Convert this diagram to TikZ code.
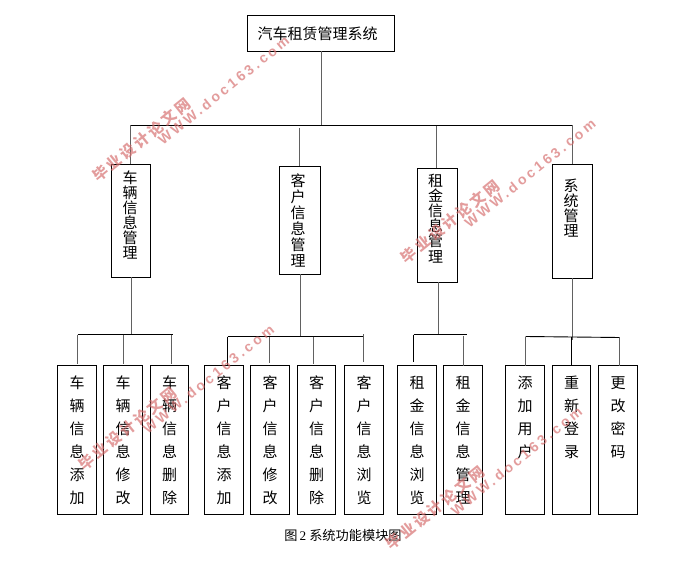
\documentclass[tikz,border=0pt]{standalone}
\usepackage{fontspec}
\setmainfont{Noto Sans CJK SC}
\newfontfamily\serfont{Liberation Serif}
\newfontfamily\wmcn[LetterSpace=18]{Noto Sans CJK SC}
\newfontfamily\wmen[LetterSpace=22]{Liberation Sans}
\definecolor{wmred}{RGB}{214,110,110}
% height, first glyph centre below top, pitch, font size, width, lines
\newcommand{\stk}[6]{\parbox[c][#1pt][t]{#5pt}{\centering\fontsize{#4pt}{#3pt}\selectfont
  \lineskiplimit=-100pt \baselineskip=#3pt
  \rule{0pt}{\dimexpr #2pt+0.36\dimexpr #4pt\relax\relax}#6\par}}
\newcommand{\lowtxt}[2]{\stk{149}{17.8}{22.9}{15}{#1}{#2}}
\newcommand{\wmk}[5]{%
  \node[wmtext,font=\wmcn\bfseries\fontsize{15pt}{15pt}\selectfont] (#1cn) at (#2,#3) {毕业设计论文网};
  \node[wmtext,font=\wmen\bfseries\fontsize{14pt}{14pt}\selectfont] (#1en) at (#4,#5) {WWW.doc163.com};}
\tikzset{
  bx/.style={draw=black,line width=0.9pt,fill=white,inner sep=0pt,outer sep=0pt,anchor=center},
  hline/.style={draw=black,line width=0.9pt},
  vline/.style={draw=black!62,line width=1.2pt},
  wmtext/.style={text=wmred,text opacity=0.68,rotate=39,inner sep=0pt}
}
\begin{document}
\begin{tikzpicture}[x=1pt,y=-1pt]
\useasboundingbox[fill=white] (0,0) rectangle (691,564);
% root
\node[bx,minimum width=147pt,minimum height=36pt] (root) at (321,33.5) {\makebox[140pt]{\fontsize{15pt}{15pt}\selectfont 汽车租赁管理系统}\hspace*{7pt}};
% second level
\node[bx] (a) at (131,221) {\stk{113}{13.7}{15}{15}{39}{\hspace*{-2pt}车\\\hspace*{-2pt}辆\\\hspace*{-2pt}信\\\hspace*{-2pt}息\\\hspace*{-2pt}管\\\hspace*{-2pt}理}};
\node[bx] (b) at (300,220.5) {\stk{108}{14.7}{16}{15}{41}{\hspace*{-4pt}客\\\hspace*{-4pt}户\\\hspace*{-4pt}信\\\hspace*{-4pt}息\\\hspace*{-4pt}管\\\hspace*{-4pt}理}};
\node[bx] (c) at (437.5,225.5) {\stk{114}{12.7}{15.1}{15}{40}{\hspace*{-3.6pt}租\\\hspace*{-3.6pt}金\\\hspace*{-3.6pt}信\\\hspace*{-3.6pt}息\\\hspace*{-3.6pt}管\\\hspace*{-3.6pt}理}};
\node[bx] (d) at (572.5,221.5) {\stk{114}{21.7}{14.9}{15}{40}{\hspace*{-2.6pt}系\\\hspace*{-2.6pt}统\\\hspace*{-2.6pt}管\\\hspace*{-2.6pt}理}};
% third level
\node[bx] (a1) at (77,440) {\lowtxt{39}{车\\辆\\信\\息\\添\\加}};
\node[bx] (a2) at (123,440) {\lowtxt{39}{车\\辆\\信\\息\\修\\改}};
\node[bx] (a3) at (169.5,440) {\lowtxt{38}{车\\辆\\信\\息\\删\\除}};
\node[bx] (b1) at (224,440) {\lowtxt{39}{客\\户\\信\\息\\添\\加}};
\node[bx] (b2) at (270,440) {\lowtxt{39}{客\\户\\信\\息\\修\\改}};
\node[bx] (b3) at (316.5,440) {\lowtxt{38}{客\\户\\信\\息\\删\\除}};
\node[bx] (b4) at (364,440) {\lowtxt{39}{客\\户\\信\\息\\浏\\览}};
\node[bx] (c1) at (417,440) {\lowtxt{39}{租\\金\\信\\息\\浏\\览}};
\node[bx] (c2) at (463,440) {\lowtxt{39}{租\\金\\信\\息\\管\\理}};
\node[bx] (d1) at (525,440) {\lowtxt{39}{添\\加\\用\\户}};
\node[bx] (d2) at (571.5,440) {\lowtxt{38}{重\\新\\登\\录}};
\node[bx] (d3) at (618,440) {\lowtxt{39}{更\\改\\密\\码}};
% junctions
\coordinate (jr) at (321.5,125.5);
\coordinate (jl) at (130.5,125.5);
\coordinate (jR) at (572.5,125.5);
\coordinate (jb) at (299.5,128);
\coordinate (jc) at (436.5,126);
\coordinate (ja) at (131.5,334.5);
\coordinate (ja1) at (77.5,334.5);
\coordinate (ja2) at (123.5,334.5);
\coordinate (ja3) at (171.5,334.5);
\coordinate (ja4) at (172.5,334.5);
\coordinate (jbb) at (300.5,336.5);
\coordinate (jb1) at (227.5,336.5);
\coordinate (jb2) at (269.5,336.5);
\coordinate (jb3) at (313.5,336.5);
\coordinate (jb4) at (363.5,334);
\coordinate (jb5) at (364,336.5);
\coordinate (jcc) at (438.5,334.5);
\coordinate (jc1) at (413.5,334.5);
\coordinate (jc2) at (463.5,336);
\coordinate (jc3) at (466.5,334.5);
\coordinate (jdd) at (572.5,340);
\coordinate (jd1) at (525.5,336.5);
\coordinate (jd2) at (571.5,336.5);
\coordinate (jd3) at (619.5,337.5);
% connectors
\draw[vline] (jr |- root.south) -- (jr);
\draw[hline] (jl) -- (jR);
\draw[vline] (jl) -- (jl |- a.north);
\draw[vline] (jb) -- (jb |- b.north);
\draw[vline] (jc) -- (jc |- c.north);
\draw[vline] (jR) -- (jR |- d.north);
\draw[vline] (ja |- a.south) -- (ja);
\draw[hline] (ja1) -- (ja4);
\draw[vline] (ja1) -- ++(0,29);
\draw[vline] (ja2) -- ++(0,29);
\draw[vline] (ja3) -- ++(0,29);
\draw[vline] (jbb |- b.south) -- (jbb);
\draw[hline] (jb1) -- (jb5);
\draw[hline] (jb1) -- (jb1 |- b1.north);
\draw[vline] (jb2) -- ++(0,26);
\draw[vline] (jb3) -- ++(0,27);
\draw[vline] (jb4) -- ++(0,28);
\draw[vline] (jcc |- c.south) -- (jcc);
\draw[hline] (jc1) -- (jc3);
\draw[hline] (jc1) -- ++(0,27.7);
\draw[vline] (jc2) -- (jc2 |- c2.north);
\draw[vline] (jdd |- d.south) -- (jdd);
\draw[hline] (jd1) -- (jd3);
\draw[vline] (jd1) -- (jd1 |- d1.north);
\draw[hline] (jd2) -- (jd2 |- d2.north);
\draw[vline] (jd3) -- (jd3 |- d3.north);
% caption
\node[inner sep=0pt,font=\fontsize{13.2pt}{14pt}\selectfont] (cap) at (343,535) {图\,{\serfont 2}\ 系统功能模块图};
% watermarks
\wmk{w1}{141.5}{140}{223.5}{90.5}
\wmk{w2}{450}{221.5}{530}{173.5}
\wmk{w3}{127.5}{428.5}{208.5}{379}
\wmk{w4}{435}{508}{516.5}{461}
\end{tikzpicture}
\end{document}
